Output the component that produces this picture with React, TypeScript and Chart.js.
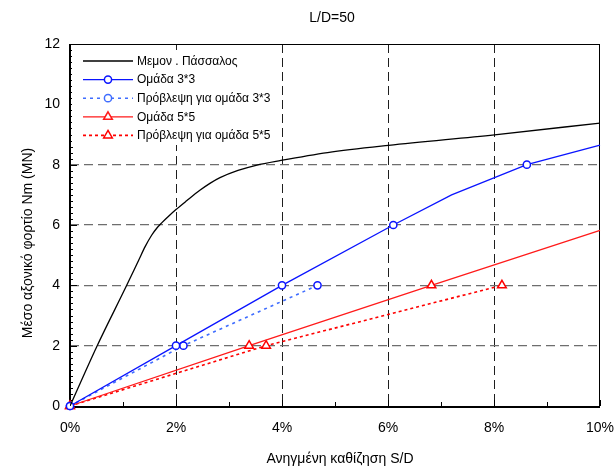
import React, { useEffect, useRef } from 'react';
import { Chart, registerables } from 'chart.js';

Chart.register(...registerables);

const FONT_FAMILY = '"Liberation Sans", Arial, Helvetica, sans-serif';

const chartTitle = 'L/D=50';
const xAxisTitle = 'Ανηγμένη καθίζηση S/D';
const yAxisTitle = 'Μέσο αξονικό φορτίο Nm (MN)';

const xTickValues = [0, 2, 4, 6, 8, 10];
const yTickValues = [0, 2, 4, 6, 8, 10, 12];

const seriesLabels = [
  'Μεμον . Πάσσαλος',
  'Ομάδα 3*3',
  'Πρόβλεψη για ομάδα 3*3',
  'Ομάδα 5*5',
  'Πρόβλεψη για ομάδα 5*5',
];

// Single pile (Μεμον. Πάσσαλος)
const pileX = [0, 0.5, 1.07, 1.3, 1.42, 1.54, 1.64, 1.73, 1.86, 2.0, 2.2, 2.45, 2.64, 2.83, 3.17, 3.51, 3.98, 4.86, 6.01, 8.01, 10];
const pileY = [0, 1.95, 4.0, 4.85, 5.29, 5.66, 5.9, 6.07, 6.29, 6.51, 6.8, 7.15, 7.38, 7.57, 7.81, 7.98, 8.14, 8.4, 8.64, 8.99, 9.38];

// Group 3*3
const group33X = [0, 2.0, 4.0, 6.1, 7.2, 8.62, 10];
const group33Y = [0, 2.0, 4.0, 6.0, 7.0, 8.0, 8.65];
const group33Marked = [true, true, true, true, false, true, false];

// Prediction for group 3*3
const pred33X = [0, 2.14, 4.67];
const pred33Y = [0, 2.0, 4.0];

// Group 5*5
const group55X = [0, 3.38, 6.82, 10];
const group55Y = [0, 2.0, 4.0, 5.82];
const group55Marked = [true, true, true, false];

// Prediction for group 5*5
const pred55X = [0, 3.7, 8.15];
const pred55Y = [0, 2.0, 4.0];

const toPoints = (xs: number[], ys: number[]) => xs.map((x, i) => ({ x, y: ys[i] }));

const BLUE = '#0a14ff';
const BLUE_DOT = '#3f6dff';
const RED = '#ff1a1a';
const RED_DOT = '#ff0000';

function drawMarker(ctx: CanvasRenderingContext2D, style: string, x: number, y: number, r: number, color: string, bw: number) {
  ctx.save();
  ctx.setLineDash([]);
  ctx.lineWidth = bw;
  ctx.strokeStyle = color;
  ctx.fillStyle = '#ffffff';
  ctx.beginPath();
  if (style === 'circle') {
    ctx.arc(x, y, r, 0, Math.PI * 2);
  } else {
    let rad = 0;
    ctx.moveTo(x + Math.sin(rad) * r, y - Math.cos(rad) * r);
    rad += (2 * Math.PI) / 3;
    ctx.lineTo(x + Math.sin(rad) * r, y - Math.cos(rad) * r);
    rad += (2 * Math.PI) / 3;
    ctx.lineTo(x + Math.sin(rad) * r, y - Math.cos(rad) * r);
    ctx.closePath();
  }
  ctx.fill();
  ctx.stroke();
  ctx.restore();
}

const framePlugin = {
  id: 'frameTicks',
  beforeDatasetsDraw(chart: any) {
    const { ctx, chartArea, scales } = chart;
    const { left, right, top, bottom } = chartArea;
    ctx.save();
    ctx.strokeStyle = '#000';
    ctx.setLineDash([]);
    ctx.lineWidth = 1;
    for (let i = 0; i <= 60; i++) {
      const v = i * 0.2;
      const yp = Math.round(scales.y.getPixelForValue(v)) + 0.5;
      const len = i % 10 === 0 ? 7 : 3;
      ctx.beginPath();
      ctx.moveTo(left, yp);
      ctx.lineTo(left + len, yp);
      ctx.stroke();
    }
    for (let i = 0; i <= 10; i++) {
      const xp = Math.round(scales.x.getPixelForValue(i)) + 0.5;
      const len = i % 2 === 0 ? 6 : 4;
      ctx.beginPath();
      ctx.moveTo(xp, bottom);
      ctx.lineTo(xp, bottom - len);
      ctx.stroke();
    }
    ctx.lineWidth = 1;
    ctx.beginPath();
    ctx.moveTo(left, top + 0.5);
    ctx.lineTo(right, top + 0.5);
    ctx.moveTo(right - 0.5, top);
    ctx.lineTo(right - 0.5, bottom);
    ctx.stroke();
    ctx.lineWidth = 2;
    ctx.beginPath();
    ctx.moveTo(left, top);
    ctx.lineTo(left, bottom + 1);
    ctx.lineTo(right, bottom + 1);
    ctx.stroke();
    ctx.restore();
  },
  afterDraw(chart: any) {
    const { ctx, chartArea } = chart;
    const { left, right, top, bottom } = chartArea;
    ctx.save();
    ctx.fillStyle = '#000';
    ctx.font = `14px ${FONT_FAMILY}`;
    ctx.textAlign = 'center';
    ctx.textBaseline = 'alphabetic';
    ctx.fillText(chartTitle, (left + right) / 2 - 3, 22);
    ctx.fillText(xAxisTitle, (left + right) / 2 + 5, 463);
    ctx.save();
    ctx.translate(32, (top + bottom) / 2 + 18);
    ctx.rotate(-Math.PI / 2);
    ctx.fillText(yAxisTitle, 0, 0);
    ctx.restore();

    // legend
    ctx.fillStyle = '#ffffff';
    ctx.fillRect(left + 2, top + 6, 198, 95);
    const ds = chart.data.datasets;
    for (let i = 0; i < seriesLabels.length; i++) {
      const d = ds[i];
      const y = top + 17 + i * 18.6;
      ctx.save();
      ctx.strokeStyle = d.borderColor;
      ctx.lineWidth = d.borderWidth;
      ctx.setLineDash(d.borderDash || []);
      ctx.beginPath();
      ctx.moveTo(left + 13, y);
      ctx.lineTo(left + 63, y);
      ctx.stroke();
      ctx.restore();
      if (d.legendMarker) {
        drawMarker(ctx, d.legendMarker, left + 38, y, d.legendRadius, d.borderColor, 1.5);
      }
      ctx.fillStyle = '#000';
      ctx.font = `12px ${FONT_FAMILY}`;
      ctx.textAlign = 'left';
      ctx.textBaseline = 'middle';
      ctx.fillText(seriesLabels[i], left + 67, y + 0.5);
    }
    ctx.restore();
  },
};

export default function App() {
  const canvasRef = useRef<HTMLCanvasElement | null>(null);

  useEffect(() => {
    const canvas = canvasRef.current;
    if (!canvas) return;
    const edgeColor = (c: any, color: string) => {
      const v = c.tick ? c.tick.value : null;
      return v === 0 || v === 10 || v === 12 ? 'rgba(0,0,0,0)' : color;
    };
    const chart = new Chart(canvas, {
      type: 'scatter',
      data: {
        datasets: [
          {
            label: seriesLabels[0],
            data: toPoints(pileX, pileY),
            showLine: true,
            borderColor: '#000000',
            borderWidth: 1.3,
            pointRadius: 0,
            cubicInterpolationMode: 'monotone',
            legendMarker: null,
          } as any,
          {
            label: seriesLabels[1],
            data: toPoints(group33X, group33Y),
            showLine: true,
            borderColor: BLUE,
            borderWidth: 1.3,
            pointStyle: 'circle',
            pointRadius: group33Marked.map((m) => (m ? 3.6 : 0)),
            pointBorderWidth: 1.5,
            pointBorderColor: BLUE,
            pointBackgroundColor: '#ffffff',
            clip: false,
            legendMarker: 'circle',
            legendRadius: 3.6,
          } as any,
          {
            label: seriesLabels[2],
            data: toPoints(pred33X, pred33Y),
            showLine: true,
            borderColor: BLUE_DOT,
            borderWidth: 1.6,
            borderDash: [3, 4],
            pointStyle: 'circle',
            pointRadius: 3.6,
            pointBorderWidth: 1.5,
            pointBorderColor: BLUE,
            pointBackgroundColor: '#ffffff',
            clip: false,
            legendMarker: 'circle',
            legendRadius: 3.6,
          } as any,
          {
            label: seriesLabels[3],
            data: toPoints(group55X, group55Y),
            showLine: true,
            borderColor: RED,
            borderWidth: 1.3,
            pointStyle: 'triangle',
            pointRadius: group55Marked.map((m) => (m ? 5 : 0)),
            pointBorderWidth: 1.5,
            pointBorderColor: RED_DOT,
            pointBackgroundColor: '#ffffff',
            clip: false,
            legendMarker: 'triangle',
            legendRadius: 5,
          } as any,
          {
            label: seriesLabels[4],
            data: toPoints(pred55X, pred55Y),
            showLine: true,
            borderColor: RED_DOT,
            borderWidth: 1.6,
            borderDash: [3, 3],
            pointStyle: 'triangle',
            pointRadius: 5,
            pointBorderWidth: 1.5,
            pointBorderColor: RED_DOT,
            pointBackgroundColor: '#ffffff',
            clip: false,
            legendMarker: 'triangle',
            legendRadius: 5,
          } as any,
        ],
      },
      options: {
        responsive: false,
        animation: false,
        devicePixelRatio: 1,
        events: [],
        layout: { padding: { left: 0, top: 44, right: 14, bottom: 0 } },
        plugins: {
          legend: { display: false },
          title: { display: false },
          tooltip: { enabled: false },
        },
        scales: {
          x: {
            type: 'linear',
            min: 0,
            max: 10,
            afterBuildTicks: (s: any) => {
              s.ticks = xTickValues.map((v) => ({ value: v }));
            },
            afterFit: (s: any) => {
              s.height = 65;
              s.paddingLeft = 0;
              s.paddingRight = 0;
            },
            ticks: {
              callback: (v: any) => `${v}%`,
              color: '#000',
              font: { family: FONT_FAMILY, size: 14 },
              padding: 14,
              maxRotation: 0,
              autoSkip: false,
            },
            grid: {
              drawTicks: false,
              lineWidth: 1,
              color: (c: any) => edgeColor(c, '#1e1e1e'),
            },
            border: { display: false, dash: [9, 5] },
          },
          y: {
            type: 'linear',
            min: 0,
            max: 12,
            afterBuildTicks: (s: any) => {
              s.ticks = yTickValues.map((v) => ({ value: v }));
            },
            afterFit: (s: any) => {
              s.width = 70;
              s.paddingTop = 0;
              s.paddingBottom = 0;
            },
            ticks: {
              color: '#000',
              font: { family: FONT_FAMILY, size: 14 },
              padding: 10,
            },
            grid: {
              drawTicks: false,
              lineWidth: 1.2,
              color: (c: any) => edgeColor(c, '#6e6e6e'),
            },
            border: { display: false, dash: [9, 5] },
          },
        },
      } as any,
      plugins: [framePlugin],
    });
    return () => chart.destroy();
  }, []);

  return (
    <div style={{ position: 'absolute', left: 0, top: 0, width: 614, height: 471, background: '#fff' }}>
      <canvas ref={canvasRef} width={614} height={471} style={{ display: 'block' }} />
    </div>
  );
}
